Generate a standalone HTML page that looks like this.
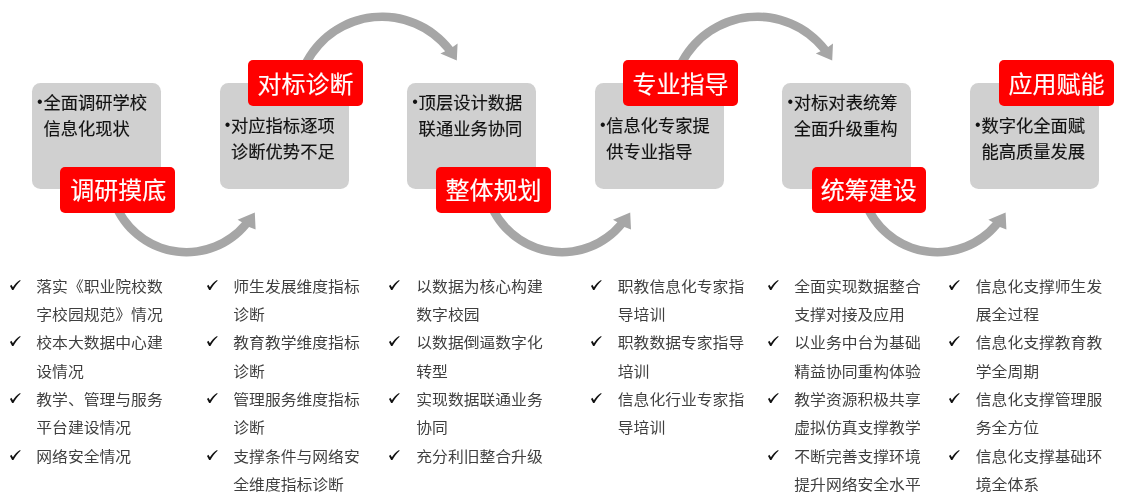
<!DOCTYPE html>
<html lang="zh-CN"><head><meta charset="utf-8"><title>流程</title>
<style>
html,body{margin:0;padding:0;background:#fff;}
body{will-change:transform;width:1128px;height:500px;position:relative;overflow:hidden;font-family:"Liberation Sans","Noto Sans CJK SC",sans-serif;}
.g{position:absolute;background:#d0d0d0;border-radius:8.5px;width:129px;height:106.2px;top:83px;}
.gt{-webkit-text-stroke:0.15px #111;transform:translateY(0.5px);position:absolute;font-size:17.3px;line-height:26px;color:#111;white-space:nowrap;font-weight:400;}
.gt .b{position:absolute;left:-6.3px;top:-1.3px;font-size:16px;-webkit-text-stroke:0;font-weight:400;}
.r{-webkit-text-stroke:0.15px #fff;position:absolute;background:#ff0000;border-radius:5px;width:115.3px;height:46px;color:#fff;font-size:24px;line-height:46px;box-sizing:border-box;text-align:center;white-space:nowrap;}
.l{position:absolute;left:0;top:0;-webkit-text-stroke:0px #3f3f3f;font-size:15.8px;line-height:28.29px;color:#3f3f3f;white-space:nowrap;font-weight:400;height:28.29px;transform-origin:0 50%;}
.c{position:absolute;width:11px;height:10px;}
svg.a{position:absolute;left:0;top:0;}
</style></head><body>

<svg class="a" width="1128" height="500" viewBox="0 0 1128 500">
<path transform="translate(0,0)" fill="#a6a6a6" d="M300.86 64 A89.6 89.6 0 0 1 452.73 46.99 L457.6 43.6 L456.8 60.4 L440.4 53.4 L445.17 51.30 A81 81 0 0 0 310.47 64 Z"/>
<path transform="translate(375.4,0)" fill="#a6a6a6" d="M300.86 64 A89.6 89.6 0 0 1 452.73 46.99 L457.6 43.6 L456.8 60.4 L440.4 53.4 L445.17 51.30 A81 81 0 0 0 310.47 64 Z"/>
<path transform="translate(0,0)" fill="#a6a6a6" d="M113.09 210 A81.2 81.2 0 0 0 249.11 227.00 L255.6 229.4 L254.8 212.6 L237.6 219.8 L241.95 222.16 A72.6 72.6 0 0 1 122.73 210 Z"/>
<path transform="translate(375.4,0)" fill="#a6a6a6" d="M113.09 210 A81.2 81.2 0 0 0 249.11 227.00 L255.6 229.4 L254.8 212.6 L237.6 219.8 L241.95 222.16 A72.6 72.6 0 0 1 122.73 210 Z"/>
<path transform="translate(750.8,0)" fill="#a6a6a6" d="M113.09 210 A81.2 81.2 0 0 0 249.11 227.00 L255.6 229.4 L254.8 212.6 L237.6 219.8 L241.95 222.16 A72.6 72.6 0 0 1 122.73 210 Z"/>
</svg>
<div class="g" style="left:32.00px"></div>
<div class="g" style="left:219.60px"></div>
<div class="g" style="left:407.20px"></div>
<div class="g" style="left:594.80px"></div>
<div class="g" style="left:782.40px"></div>
<div class="g" style="left:970.00px"></div>
<div class="r" style="left:59.9px;width:115.3px;top:167px;padding-top:1px;padding-left:1.6px">调研摸底</div>
<div class="gt" style="left:43.40px;top:89px"><span class="b">•</span>全面调研学校<br>信息化现状</div>
<div class="r" style="left:248.4px;width:114.2px;top:60px;padding-top:2px;padding-left:0px">对标诊断</div>
<div class="gt" style="left:231.00px;top:112px"><span class="b">•</span>对应指标逐项<br>诊断优势不足</div>
<div class="r" style="left:435.9px;width:115.3px;top:167px;padding-top:1px;padding-left:0px">整体规划</div>
<div class="gt" style="left:418.60px;top:89px"><span class="b">•</span>顶层设计数据<br>联通业务协同</div>
<div class="r" style="left:622.9px;width:115px;top:60px;padding-top:2px;padding-left:0px">专业指导</div>
<div class="gt" style="left:606.20px;top:112px"><span class="b">•</span>信息化专家提<br>供专业指导</div>
<div class="r" style="left:812px;width:113.5px;top:167px;padding-top:1px;padding-left:0px">统筹建设</div>
<div class="gt" style="left:793.80px;top:89px"><span class="b">•</span>对标对表统筹<br>全面升级重构</div>
<div class="r" style="left:999px;width:115px;top:60px;padding-top:2px;padding-left:0px">应用赋能</div>
<div class="gt" style="left:981.40px;top:112px"><span class="b">•</span>数字化全面赋<br>能高质量发展</div>
<svg class="c" style="left:9.70px;top:280.00px" viewBox="0 0 11 10"><path d="M0 5.9 L1.4 4.8 L2.9 7.3 C4.6 4.5 7 1.8 10.1 0 L10.6 0.7 C7.8 3.1 5.3 6.5 3.4 10 L2.1 10 Z" fill="#111"/></svg>
<div class="l" style="transform:translate(36.30px,273.00px) scale(1,0.93)">落实《职业院校数</div>
<div class="l" style="transform:translate(36.30px,301.00px) scale(1,0.93)">字校园规范》情况</div>
<svg class="c" style="left:9.70px;top:336.00px" viewBox="0 0 11 10"><path d="M0 5.9 L1.4 4.8 L2.9 7.3 C4.6 4.5 7 1.8 10.1 0 L10.6 0.7 C7.8 3.1 5.3 6.5 3.4 10 L2.1 10 Z" fill="#111"/></svg>
<div class="l" style="transform:translate(36.30px,329.00px) scale(1,0.93)">校本大数据中心建</div>
<div class="l" style="transform:translate(36.30px,358.00px) scale(1,0.93)">设情况</div>
<svg class="c" style="left:9.70px;top:393.00px" viewBox="0 0 11 10"><path d="M0 5.9 L1.4 4.8 L2.9 7.3 C4.6 4.5 7 1.8 10.1 0 L10.6 0.7 C7.8 3.1 5.3 6.5 3.4 10 L2.1 10 Z" fill="#111"/></svg>
<div class="l" style="transform:translate(36.30px,386.00px) scale(1,0.93)">教学、管理与服务</div>
<div class="l" style="transform:translate(36.30px,414.00px) scale(1,0.93)">平台建设情况</div>
<svg class="c" style="left:9.70px;top:450.00px" viewBox="0 0 11 10"><path d="M0 5.9 L1.4 4.8 L2.9 7.3 C4.6 4.5 7 1.8 10.1 0 L10.6 0.7 C7.8 3.1 5.3 6.5 3.4 10 L2.1 10 Z" fill="#111"/></svg>
<div class="l" style="transform:translate(36.30px,443.00px) scale(1,0.93)">网络安全情况</div>
<svg class="c" style="left:207.20px;top:280.00px" viewBox="0 0 11 10"><path d="M0 5.9 L1.4 4.8 L2.9 7.3 C4.6 4.5 7 1.8 10.1 0 L10.6 0.7 C7.8 3.1 5.3 6.5 3.4 10 L2.1 10 Z" fill="#111"/></svg>
<div class="l" style="transform:translate(233.30px,273.00px) scale(1,0.93)">师生发展维度指标</div>
<div class="l" style="transform:translate(233.30px,301.00px) scale(1,0.93)">诊断</div>
<svg class="c" style="left:207.20px;top:336.00px" viewBox="0 0 11 10"><path d="M0 5.9 L1.4 4.8 L2.9 7.3 C4.6 4.5 7 1.8 10.1 0 L10.6 0.7 C7.8 3.1 5.3 6.5 3.4 10 L2.1 10 Z" fill="#111"/></svg>
<div class="l" style="transform:translate(233.30px,329.00px) scale(1,0.93)">教育教学维度指标</div>
<div class="l" style="transform:translate(233.30px,358.00px) scale(1,0.93)">诊断</div>
<svg class="c" style="left:207.20px;top:393.00px" viewBox="0 0 11 10"><path d="M0 5.9 L1.4 4.8 L2.9 7.3 C4.6 4.5 7 1.8 10.1 0 L10.6 0.7 C7.8 3.1 5.3 6.5 3.4 10 L2.1 10 Z" fill="#111"/></svg>
<div class="l" style="transform:translate(233.30px,386.00px) scale(1,0.93)">管理服务维度指标</div>
<div class="l" style="transform:translate(233.30px,414.00px) scale(1,0.93)">诊断</div>
<svg class="c" style="left:207.20px;top:450.00px" viewBox="0 0 11 10"><path d="M0 5.9 L1.4 4.8 L2.9 7.3 C4.6 4.5 7 1.8 10.1 0 L10.6 0.7 C7.8 3.1 5.3 6.5 3.4 10 L2.1 10 Z" fill="#111"/></svg>
<div class="l" style="transform:translate(233.30px,443.00px) scale(1,0.93)">支撑条件与网络安</div>
<div class="l" style="transform:translate(233.30px,471.00px) scale(1,0.93)">全维度指标诊断</div>
<svg class="c" style="left:389.20px;top:280.00px" viewBox="0 0 11 10"><path d="M0 5.9 L1.4 4.8 L2.9 7.3 C4.6 4.5 7 1.8 10.1 0 L10.6 0.7 C7.8 3.1 5.3 6.5 3.4 10 L2.1 10 Z" fill="#111"/></svg>
<div class="l" style="transform:translate(416.30px,273.00px) scale(1,0.93)">以数据为核心构建</div>
<div class="l" style="transform:translate(416.30px,301.00px) scale(1,0.93)">数字校园</div>
<svg class="c" style="left:389.20px;top:336.00px" viewBox="0 0 11 10"><path d="M0 5.9 L1.4 4.8 L2.9 7.3 C4.6 4.5 7 1.8 10.1 0 L10.6 0.7 C7.8 3.1 5.3 6.5 3.4 10 L2.1 10 Z" fill="#111"/></svg>
<div class="l" style="transform:translate(416.30px,329.00px) scale(1,0.93)">以数据倒逼数字化</div>
<div class="l" style="transform:translate(416.30px,358.00px) scale(1,0.93)">转型</div>
<svg class="c" style="left:389.20px;top:393.00px" viewBox="0 0 11 10"><path d="M0 5.9 L1.4 4.8 L2.9 7.3 C4.6 4.5 7 1.8 10.1 0 L10.6 0.7 C7.8 3.1 5.3 6.5 3.4 10 L2.1 10 Z" fill="#111"/></svg>
<div class="l" style="transform:translate(416.30px,386.00px) scale(1,0.93)">实现数据联通业务</div>
<div class="l" style="transform:translate(416.30px,414.00px) scale(1,0.93)">协同</div>
<svg class="c" style="left:389.20px;top:450.00px" viewBox="0 0 11 10"><path d="M0 5.9 L1.4 4.8 L2.9 7.3 C4.6 4.5 7 1.8 10.1 0 L10.6 0.7 C7.8 3.1 5.3 6.5 3.4 10 L2.1 10 Z" fill="#111"/></svg>
<div class="l" style="transform:translate(416.30px,443.00px) scale(1,0.93)">充分利旧整合升级</div>
<svg class="c" style="left:591.20px;top:280.00px" viewBox="0 0 11 10"><path d="M0 5.9 L1.4 4.8 L2.9 7.3 C4.6 4.5 7 1.8 10.1 0 L10.6 0.7 C7.8 3.1 5.3 6.5 3.4 10 L2.1 10 Z" fill="#111"/></svg>
<div class="l" style="transform:translate(617.80px,273.00px) scale(1,0.93)">职教信息化专家指</div>
<div class="l" style="transform:translate(617.80px,301.00px) scale(1,0.93)">导培训</div>
<svg class="c" style="left:591.20px;top:336.00px" viewBox="0 0 11 10"><path d="M0 5.9 L1.4 4.8 L2.9 7.3 C4.6 4.5 7 1.8 10.1 0 L10.6 0.7 C7.8 3.1 5.3 6.5 3.4 10 L2.1 10 Z" fill="#111"/></svg>
<div class="l" style="transform:translate(617.80px,329.00px) scale(1,0.93)">职教数据专家指导</div>
<div class="l" style="transform:translate(617.80px,358.00px) scale(1,0.93)">培训</div>
<svg class="c" style="left:591.20px;top:393.00px" viewBox="0 0 11 10"><path d="M0 5.9 L1.4 4.8 L2.9 7.3 C4.6 4.5 7 1.8 10.1 0 L10.6 0.7 C7.8 3.1 5.3 6.5 3.4 10 L2.1 10 Z" fill="#111"/></svg>
<div class="l" style="transform:translate(617.80px,386.00px) scale(1,0.93)">信息化行业专家指</div>
<div class="l" style="transform:translate(617.80px,414.00px) scale(1,0.93)">导培训</div>
<svg class="c" style="left:768.20px;top:280.00px" viewBox="0 0 11 10"><path d="M0 5.9 L1.4 4.8 L2.9 7.3 C4.6 4.5 7 1.8 10.1 0 L10.6 0.7 C7.8 3.1 5.3 6.5 3.4 10 L2.1 10 Z" fill="#111"/></svg>
<div class="l" style="transform:translate(794.30px,273.00px) scale(1,0.93)">全面实现数据整合</div>
<div class="l" style="transform:translate(794.30px,301.00px) scale(1,0.93)">支撑对接及应用</div>
<svg class="c" style="left:768.20px;top:336.00px" viewBox="0 0 11 10"><path d="M0 5.9 L1.4 4.8 L2.9 7.3 C4.6 4.5 7 1.8 10.1 0 L10.6 0.7 C7.8 3.1 5.3 6.5 3.4 10 L2.1 10 Z" fill="#111"/></svg>
<div class="l" style="transform:translate(794.30px,329.00px) scale(1,0.93)">以业务中台为基础</div>
<div class="l" style="transform:translate(794.30px,358.00px) scale(1,0.93)">精益协同重构体验</div>
<svg class="c" style="left:768.20px;top:393.00px" viewBox="0 0 11 10"><path d="M0 5.9 L1.4 4.8 L2.9 7.3 C4.6 4.5 7 1.8 10.1 0 L10.6 0.7 C7.8 3.1 5.3 6.5 3.4 10 L2.1 10 Z" fill="#111"/></svg>
<div class="l" style="transform:translate(794.30px,386.00px) scale(1,0.93)">教学资源积极共享</div>
<div class="l" style="transform:translate(794.30px,414.00px) scale(1,0.93)">虚拟仿真支撑教学</div>
<svg class="c" style="left:768.20px;top:450.00px" viewBox="0 0 11 10"><path d="M0 5.9 L1.4 4.8 L2.9 7.3 C4.6 4.5 7 1.8 10.1 0 L10.6 0.7 C7.8 3.1 5.3 6.5 3.4 10 L2.1 10 Z" fill="#111"/></svg>
<div class="l" style="transform:translate(794.30px,443.00px) scale(1,0.93)">不断完善支撑环境</div>
<div class="l" style="transform:translate(794.30px,471.00px) scale(1,0.93)">提升网络安全水平</div>
<svg class="c" style="left:948.70px;top:280.00px" viewBox="0 0 11 10"><path d="M0 5.9 L1.4 4.8 L2.9 7.3 C4.6 4.5 7 1.8 10.1 0 L10.6 0.7 C7.8 3.1 5.3 6.5 3.4 10 L2.1 10 Z" fill="#111"/></svg>
<div class="l" style="transform:translate(975.80px,273.00px) scale(1,0.93)">信息化支撑师生发</div>
<div class="l" style="transform:translate(975.80px,301.00px) scale(1,0.93)">展全过程</div>
<svg class="c" style="left:948.70px;top:336.00px" viewBox="0 0 11 10"><path d="M0 5.9 L1.4 4.8 L2.9 7.3 C4.6 4.5 7 1.8 10.1 0 L10.6 0.7 C7.8 3.1 5.3 6.5 3.4 10 L2.1 10 Z" fill="#111"/></svg>
<div class="l" style="transform:translate(975.80px,329.00px) scale(1,0.93)">信息化支撑教育教</div>
<div class="l" style="transform:translate(975.80px,358.00px) scale(1,0.93)">学全周期</div>
<svg class="c" style="left:948.70px;top:393.00px" viewBox="0 0 11 10"><path d="M0 5.9 L1.4 4.8 L2.9 7.3 C4.6 4.5 7 1.8 10.1 0 L10.6 0.7 C7.8 3.1 5.3 6.5 3.4 10 L2.1 10 Z" fill="#111"/></svg>
<div class="l" style="transform:translate(975.80px,386.00px) scale(1,0.93)">信息化支撑管理服</div>
<div class="l" style="transform:translate(975.80px,414.00px) scale(1,0.93)">务全方位</div>
<svg class="c" style="left:948.70px;top:450.00px" viewBox="0 0 11 10"><path d="M0 5.9 L1.4 4.8 L2.9 7.3 C4.6 4.5 7 1.8 10.1 0 L10.6 0.7 C7.8 3.1 5.3 6.5 3.4 10 L2.1 10 Z" fill="#111"/></svg>
<div class="l" style="transform:translate(975.80px,443.00px) scale(1,0.93)">信息化支撑基础环</div>
<div class="l" style="transform:translate(975.80px,471.00px) scale(1,0.93)">境全体系</div>
</body></html>
